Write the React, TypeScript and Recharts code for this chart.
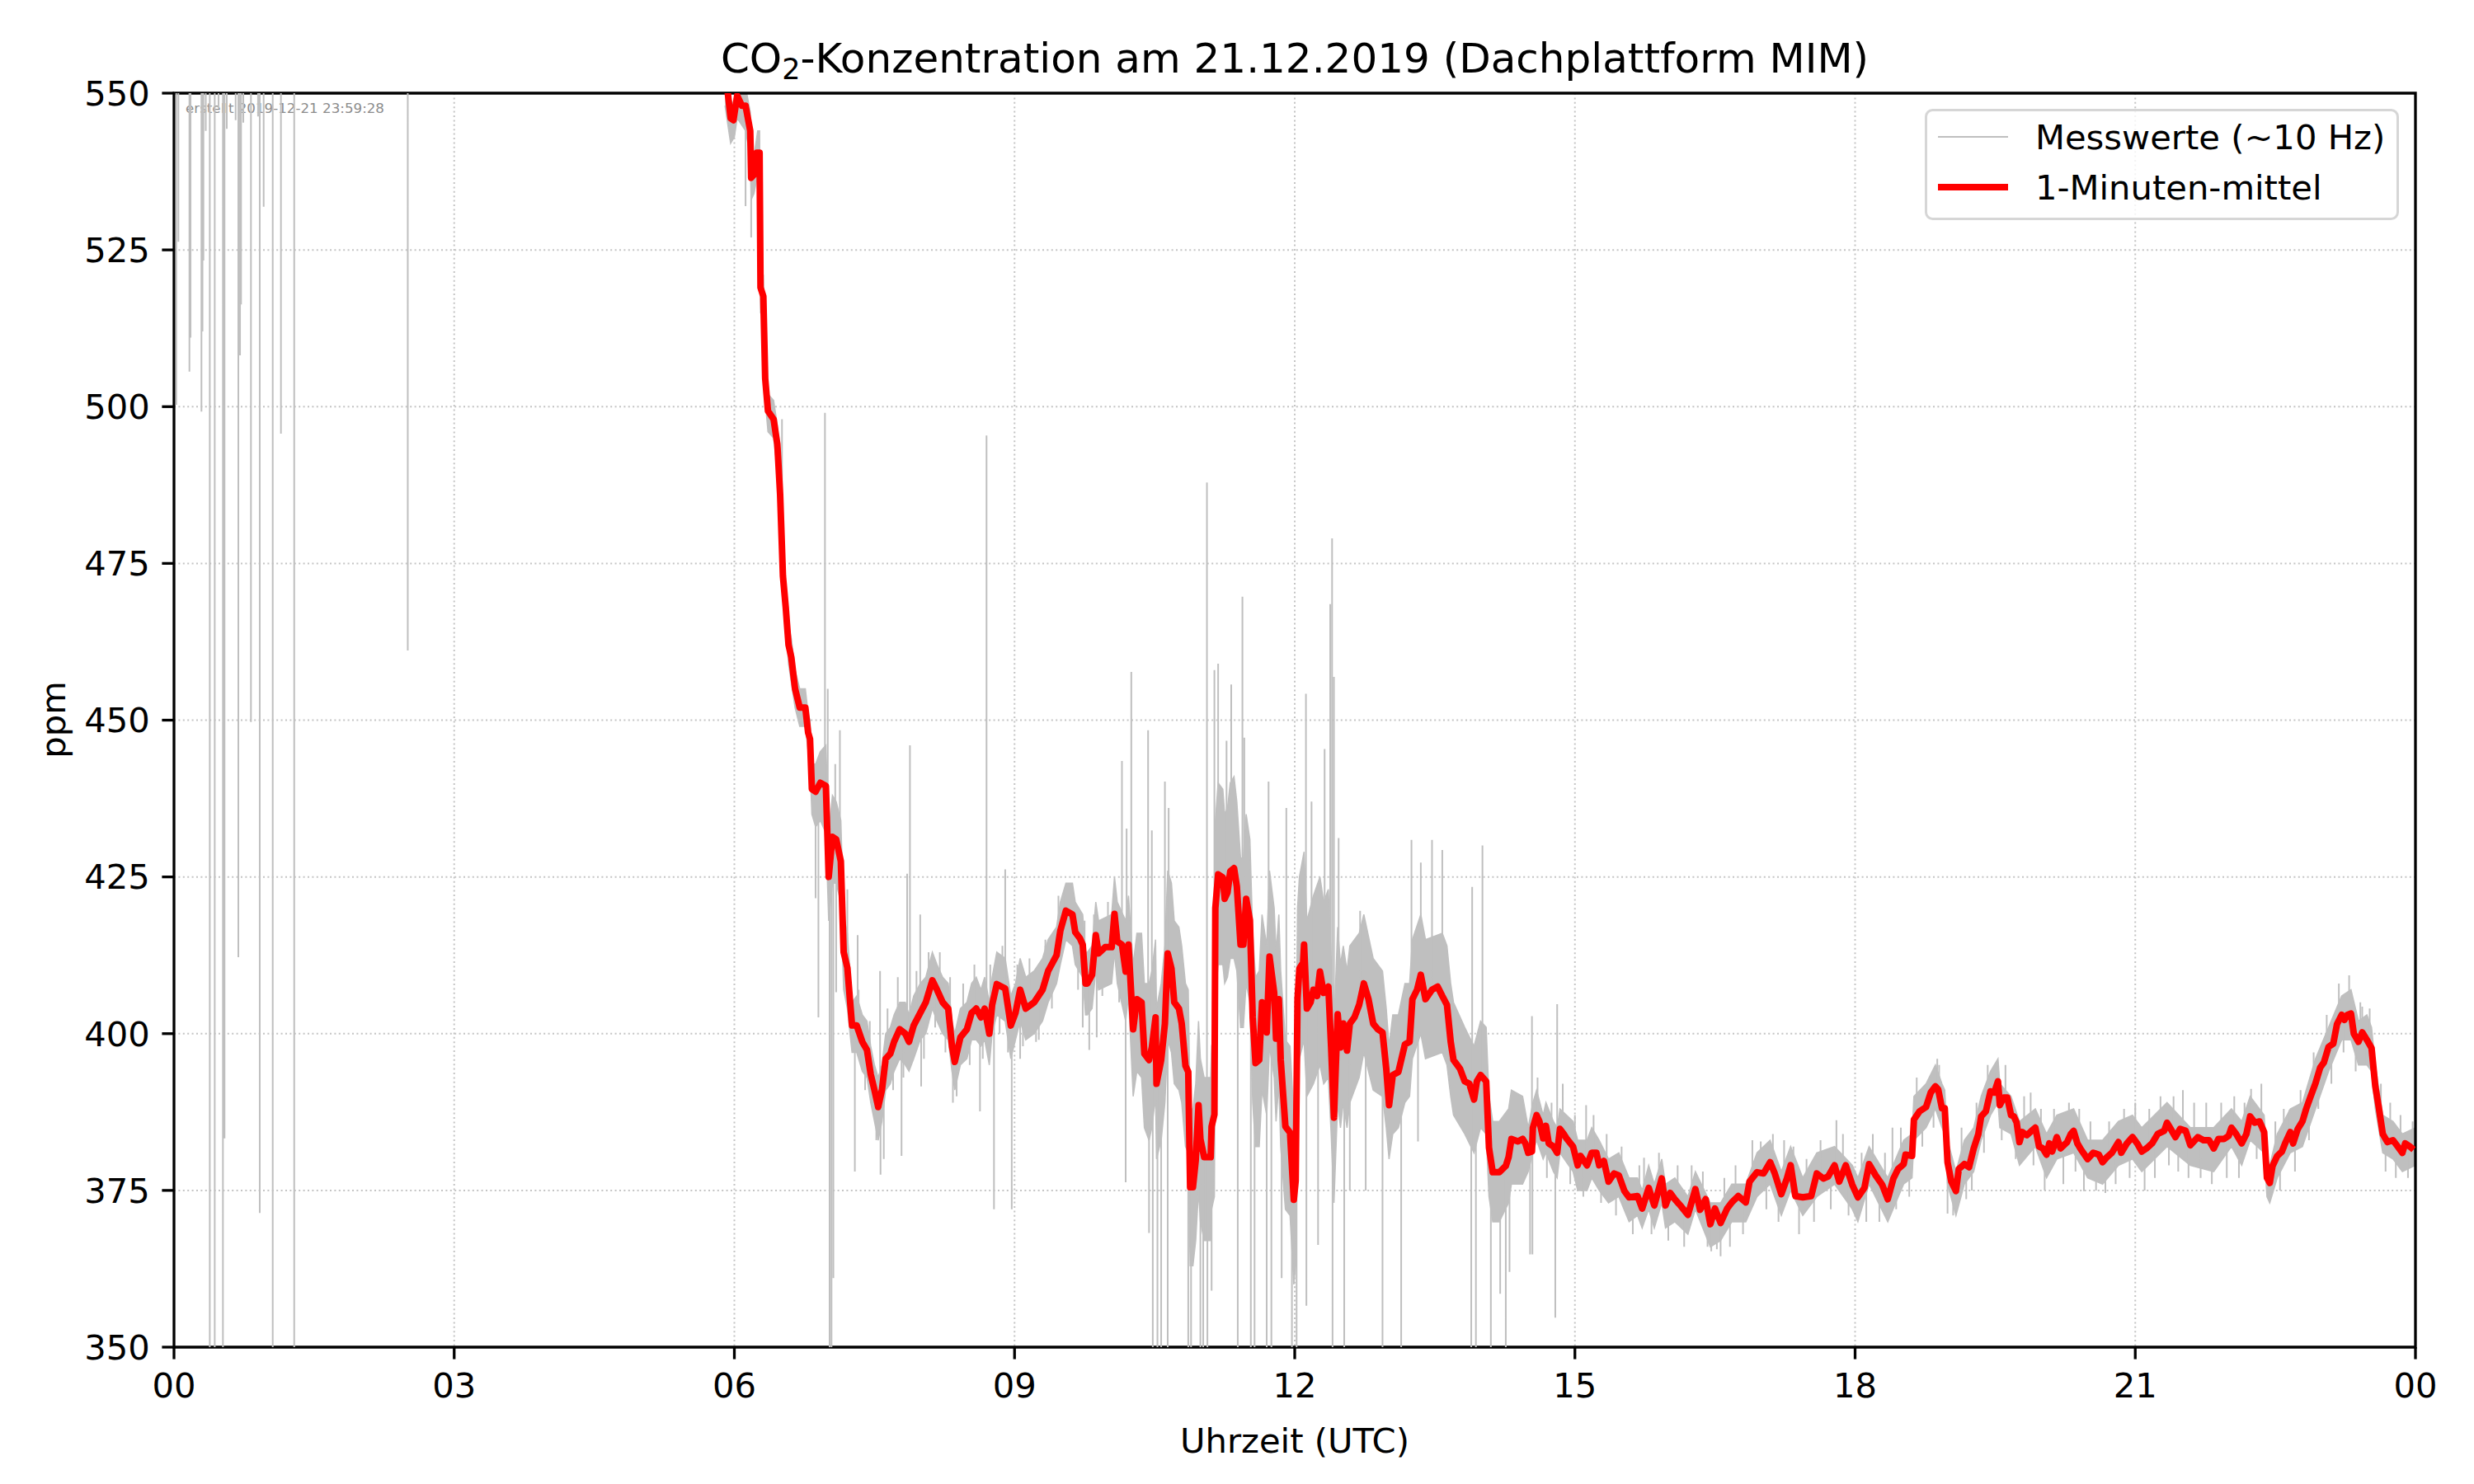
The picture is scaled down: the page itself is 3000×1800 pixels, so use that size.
import React from 'react';
import {
  ComposedChart,
  Line,
  Area,
  XAxis,
  YAxis,
  CartesianGrid,
  Legend,
  ReferenceArea,
  Customized,
} from 'recharts';

// time axis in hours (UTC), values in ppm
const xTicks = [0, 3, 6, 9, 12, 15, 18, 21, 24];
const xTickLabels = ['00', '03', '06', '09', '12', '15', '18', '21', '00'];
const yTicks = [350, 375, 400, 425, 450, 475, 500, 525, 550];
const legendLabels = ['Messwerte (~10 Hz)', '1-Minuten-mittel'];

// 1-minute mean [hour, ppm]
const meanSeries: [number, number][] = [
  [0, 600], [5.9, 556], [5.93, 550], [5.96, 546], [5.99, 545.7], [6.03, 549.6], [6.08, 548], [6.12, 548],
  [6.17, 544], [6.18, 536.5], [6.21, 537], [6.24, 540.5], [6.27, 540.5], [6.28, 519], [6.31, 517.6],
  [6.33, 504.5], [6.36, 499.3], [6.42, 498], [6.46, 494], [6.49, 486], [6.52, 473], [6.55, 468], [6.58, 462],
  [6.61, 460], [6.65, 455], [6.7, 452], [6.76, 452], [6.79, 448], [6.81, 447], [6.83, 439], [6.87, 438.6],
  [6.92, 440], [6.98, 439.5], [7.01, 425], [7.05, 431.4], [7.09, 431], [7.14, 427.5], [7.17, 413], [7.21, 410.5],
  [7.26, 401.3], [7.31, 401.3], [7.37, 398.7], [7.42, 397.4], [7.46, 393.5], [7.5, 391], [7.54, 388.3],
  [7.58, 391], [7.62, 396], [7.67, 396.8], [7.71, 398.7], [7.77, 400.7], [7.83, 400], [7.87, 398.7],
  [7.92, 401.3], [7.99, 403.3], [8.05, 405], [8.12, 408.5], [8.17, 407], [8.23, 405], [8.29, 404], [8.33, 398],
  [8.36, 395.5], [8.42, 399.4], [8.49, 400.7], [8.54, 403.3], [8.59, 404], [8.64, 402.6], [8.68, 404],
  [8.73, 400], [8.76, 404.6], [8.81, 407.9], [8.9, 407.2], [8.96, 401.3], [9.01, 403.3], [9.06, 407],
  [9.12, 404], [9.21, 405], [9.3, 407], [9.36, 410], [9.45, 412.5], [9.49, 416.4], [9.55, 419.6],
  [9.62, 419], [9.65, 416.2], [9.7, 415.2], [9.73, 414.2], [9.76, 408], [9.78, 408], [9.83, 409.4],
  [9.87, 415.7], [9.9, 412.8], [9.97, 413.8], [10.04, 413.8], [10.07, 419.1], [10.1, 414.7], [10.15, 414.2],
  [10.19, 409.9], [10.22, 414.2], [10.27, 400.7], [10.31, 405.5], [10.36, 405], [10.39, 396.8], [10.44, 395.8],
  [10.47, 397.8], [10.51, 402.6], [10.52, 392], [10.57, 395.8], [10.61, 401.6], [10.64, 412.8], [10.68, 410.4],
  [10.71, 405], [10.76, 404], [10.79, 401.6], [10.83, 394.9], [10.86, 393.9], [10.88, 375.5], [10.91, 375.5],
  [10.94, 379.8], [10.97, 388.6], [10.99, 383.2], [11.03, 380.3], [11.1, 380.3], [11.11, 385.2], [11.14, 387.1],
  [11.15, 420], [11.18, 425.4], [11.23, 424.9], [11.25, 421.5], [11.28, 422.5], [11.31, 425.9], [11.35, 426.4],
  [11.38, 423.5], [11.42, 414.2], [11.45, 414.2], [11.48, 421.5], [11.52, 418.1], [11.55, 402.6], [11.58, 395.3],
  [11.62, 395.8], [11.65, 405], [11.7, 400.2], [11.73, 412.3], [11.78, 406.5], [11.8, 399.2], [11.83, 405.5],
  [11.85, 395.8], [11.9, 385.2], [11.95, 384.2], [11.99, 373.5], [12.01, 376.5], [12.03, 405.5], [12.05, 410.4],
  [12.09, 411.3], [12.1, 414.2], [12.13, 404], [12.17, 405], [12.2, 407], [12.24, 406], [12.27, 409.9],
  [12.31, 406.5], [12.36, 407.5], [12.39, 397.8], [12.42, 386.6], [12.46, 403.1], [12.49, 397.8], [12.52, 401.6],
  [12.56, 397.3], [12.59, 401.6], [12.64, 402.6], [12.69, 404.6], [12.74, 408], [12.79, 405.5], [12.84, 401.6],
  [12.89, 400.7], [12.94, 400.2], [12.98, 394.4], [13.01, 388.6], [13.05, 393.4], [13.11, 393.9], [13.18, 398.3],
  [13.23, 398.7], [13.26, 405.5], [13.31, 407], [13.35, 409.4], [13.4, 405.5], [13.47, 407], [13.53, 407.5],
  [13.58, 406], [13.63, 404.6], [13.67, 398.7], [13.7, 395.8], [13.77, 394.4], [13.82, 392.4], [13.87, 392],
  [13.92, 389.5], [13.95, 392.4], [13.99, 393.4], [14.05, 392.4], [14.08, 381.8], [14.12, 377.9], [14.19, 377.9],
  [14.26, 378.9], [14.29, 380.3], [14.32, 383.2], [14.39, 382.8], [14.44, 383.2], [14.47, 382.5], [14.5, 381],
  [14.54, 381.2], [14.55, 385], [14.59, 387], [14.62, 386], [14.66, 383.3], [14.69, 385.3], [14.72, 382.5],
  [14.77, 382], [14.81, 381], [14.84, 384.8], [14.88, 384], [14.91, 383.3], [14.98, 382], [15.03, 379],
  [15.06, 380.5], [15.13, 379], [15.18, 381], [15.23, 381], [15.26, 379], [15.31, 379.7], [15.36, 376.4],
  [15.42, 377.7], [15.47, 377.4], [15.53, 374.9], [15.58, 373.9], [15.67, 374.1], [15.72, 372.1], [15.79, 375.4],
  [15.85, 372.6], [15.93, 376.9], [15.97, 372.6], [16.02, 374.6], [16.07, 373.6], [16.14, 372.4], [16.21, 371.1],
  [16.29, 375.2], [16.34, 371.9], [16.4, 373.6], [16.45, 369.6], [16.5, 372.1], [16.56, 369.8], [16.63, 372.1],
  [16.68, 373.1], [16.75, 374.1], [16.83, 373.1], [16.87, 376.4], [16.95, 377.9], [17.02, 377.7], [17.09, 379.5],
  [17.14, 377.7], [17.21, 374.4], [17.27, 376.9], [17.31, 379], [17.36, 374.1], [17.44, 373.9], [17.53, 374.1],
  [17.59, 377.7], [17.66, 376.9], [17.71, 377.2], [17.78, 379], [17.83, 376.4], [17.9, 379], [17.97, 375.9],
  [18.03, 373.9], [18.1, 375.4], [18.15, 379.2], [18.22, 377.4], [18.29, 375.9], [18.35, 373.6], [18.41, 376.9],
  [18.46, 378.4], [18.52, 379.2], [18.54, 380.7], [18.61, 380.5], [18.63, 386.3], [18.69, 387.6], [18.76, 388.3],
  [18.81, 390.6], [18.86, 391.6], [18.89, 391.1], [18.93, 388.1], [18.96, 388.1], [18.99, 379.5], [19.03, 376.4],
  [19.08, 374.9], [19.11, 378.4], [19.17, 379.2], [19.22, 378.7], [19.27, 381.7], [19.32, 384], [19.35, 386.8],
  [19.4, 387.6], [19.45, 390.8], [19.49, 390.6], [19.53, 392.4], [19.55, 388.6], [19.59, 389.8], [19.63, 389.8],
  [19.67, 387], [19.7, 386.8], [19.73, 385.8], [19.76, 382.7], [19.79, 384.3], [19.84, 383.8], [19.89, 384.5],
  [19.93, 385], [19.97, 382], [20.01, 381.7], [20.05, 380.7], [20.08, 382.5], [20.11, 381.2], [20.16, 383.5],
  [20.2, 381.7], [20.27, 382.7], [20.31, 384], [20.34, 384.5], [20.38, 382.5], [20.42, 381.5], [20.49, 380],
  [20.55, 381], [20.61, 380.7], [20.65, 379.5], [20.69, 380.2], [20.75, 381], [20.82, 382.7], [20.85, 381],
  [20.91, 382.5], [20.97, 383.5], [21.02, 382.5], [21.07, 381.2], [21.12, 381.7], [21.18, 382.5], [21.24, 384],
  [21.31, 384.5], [21.34, 385.8], [21.38, 384.8], [21.43, 383.5], [21.48, 384.8], [21.54, 384.5], [21.59, 382.2],
  [21.67, 383.5], [21.73, 383], [21.79, 383], [21.84, 381.7], [21.89, 383.2], [21.95, 383.2], [22.0, 383.7],
  [22.03, 385], [22.08, 384], [22.14, 382.5], [22.19, 384], [22.23, 386.8], [22.28, 385.8], [22.33, 386],
  [22.38, 384.3], [22.41, 377], [22.44, 376.2], [22.47, 378.9], [22.52, 380.5], [22.57, 381.2], [22.61, 382.7],
  [22.66, 384.3], [22.69, 382.5], [22.74, 384.8], [22.79, 386], [22.83, 388], [22.88, 390.1], [22.93, 392.1],
  [22.98, 394.6], [23.02, 395.4], [23.07, 397.9], [23.12, 398.4], [23.16, 401.5], [23.21, 403], [23.24, 402.2],
  [23.27, 403], [23.31, 403.2], [23.34, 400], [23.39, 398.7], [23.43, 400.2], [23.48, 399], [23.53, 397.7],
  [23.57, 391.6], [23.61, 388], [23.65, 384], [23.7, 382.7], [23.76, 383], [23.81, 382], [23.86, 381],
  [23.89, 382.5], [23.94, 382], [23.98, 381.5],
];

// dense core of the raw 10 Hz values [hour, low, high]
const rawBand: [number, number, number][] = [
  [5.9, 548, 560], [5.96, 542, 549], [6.0, 543, 548], [6.03, 546, 552], [6.12, 544, 551], [6.17, 540, 547],
  [6.18, 533, 540], [6.21, 534, 540], [6.25, 537, 544], [6.27, 536, 544], [6.28, 515, 522], [6.31, 514, 521],
  [6.33, 501, 508], [6.36, 496, 502], [6.42, 495, 501], [6.46, 490, 497], [6.49, 482, 489], [6.52, 469, 476],
  [6.55, 465, 471], [6.58, 459, 465], [6.61, 456, 463], [6.65, 452, 458], [6.7, 449, 455], [6.76, 449, 455],
  [6.79, 445, 451], [6.81, 443, 450], [6.83, 435, 443], [6.87, 433, 443], [6.92, 434, 445], [6.98, 432, 446],
  [7.01, 418, 432], [7.05, 424, 438], [7.09, 424, 437], [7.14, 421, 434], [7.17, 407, 419], [7.21, 404, 416],
  [7.26, 397, 405], [7.31, 397, 406], [7.37, 394, 403], [7.42, 393, 402], [7.46, 389, 398], [7.5, 386, 395],
  [7.54, 383, 393], [7.58, 386, 395], [7.62, 391, 400], [7.67, 392, 401], [7.71, 394, 403], [7.77, 396, 405],
  [7.83, 395, 405], [7.87, 394, 403], [7.92, 396, 406], [7.99, 399, 408], [8.05, 400, 409], [8.12, 404, 413],
  [8.17, 402, 411], [8.23, 400, 409], [8.29, 399, 408], [8.33, 394, 402], [8.36, 391, 400], [8.42, 395, 404],
  [8.49, 396, 405], [8.54, 399, 408], [8.59, 399, 409], [8.64, 398, 407], [8.68, 399, 409], [8.73, 395, 405],
  [8.76, 400, 409], [8.81, 403, 413], [8.9, 402, 412], [8.96, 396, 406], [9.01, 399, 408], [9.06, 402, 412],
  [9.12, 399, 409], [9.21, 400, 410], [9.3, 402, 412], [9.36, 405, 415], [9.45, 408, 417], [9.49, 411, 421],
  [9.55, 415, 424], [9.62, 414, 424], [9.65, 411, 421], [9.73, 409, 419], [9.76, 403, 413], [9.78, 403, 413],
  [9.83, 404, 414], [9.87, 410, 421], [9.9, 407, 418], [10.04, 408, 419], [10.07, 413, 425], [10.1, 408, 421],
  [10.19, 402, 418], [10.22, 406, 422], [10.27, 390, 411], [10.31, 394, 416], [10.36, 393, 416], [10.39, 385, 408],
  [10.44, 383, 408], [10.47, 385, 410], [10.51, 390, 415], [10.52, 380, 404], [10.57, 383, 408], [10.61, 389, 414],
  [10.64, 399, 426], [10.68, 397, 424], [10.71, 392, 418], [10.76, 391, 417], [10.79, 389, 414], [10.83, 382, 408],
  [10.86, 381, 407], [10.88, 363, 388], [10.91, 363, 388], [10.94, 367, 392], [10.97, 375, 402], [10.99, 370, 396],
  [11.03, 367, 393], [11.1, 367, 393], [11.11, 372, 398], [11.14, 374, 400], [11.15, 406, 434], [11.18, 411, 440],
  [11.23, 411, 439], [11.25, 408, 435], [11.28, 409, 436], [11.31, 412, 440], [11.35, 412, 441], [11.38, 410, 437],
  [11.42, 401, 428], [11.45, 401, 428], [11.48, 408, 435], [11.52, 405, 431], [11.55, 389, 416], [11.58, 382, 409],
  [11.62, 382, 410], [11.65, 391, 419], [11.7, 387, 414], [11.73, 398, 426], [11.78, 393, 420], [11.8, 386, 413],
  [11.83, 392, 419], [11.85, 382, 410], [11.9, 372, 399], [11.95, 371, 398], [11.99, 360, 387], [12.01, 363, 390],
  [12.03, 391, 420], [12.05, 396, 425], [12.1, 399, 429], [12.13, 390, 418], [12.2, 392, 422], [12.27, 395, 425],
  [12.31, 392, 421], [12.36, 393, 423], [12.39, 384, 412], [12.42, 373, 401], [12.46, 389, 417], [12.49, 385, 411],
  [12.52, 389, 414], [12.56, 385, 410], [12.59, 389, 414], [12.69, 393, 416], [12.74, 397, 419], [12.84, 391, 412],
  [12.94, 390, 410], [12.98, 385, 404], [13.01, 380, 398], [13.05, 384, 403], [13.11, 385, 403], [13.18, 389, 408],
  [13.23, 390, 408], [13.26, 396, 415], [13.35, 400, 419], [13.4, 396, 415], [13.58, 397, 416], [13.63, 395, 414],
  [13.67, 390, 408], [13.7, 387, 405], [13.82, 384, 401], [13.92, 381, 398], [13.99, 385, 402], [14.05, 384, 401],
  [14.08, 374, 390], [14.12, 370, 386], [14.19, 370, 386], [14.29, 373, 388], [14.32, 376, 391], [14.44, 376, 390],
  [14.5, 378, 385], [14.55, 381, 389], [14.59, 383, 391], [14.66, 380, 387], [14.69, 381, 389], [14.77, 378, 386],
  [14.81, 377, 385], [14.84, 381, 388], [14.98, 378, 386], [15.03, 375, 383], [15.13, 375, 383], [15.18, 377, 385],
  [15.26, 375, 383], [15.36, 373, 380], [15.47, 374, 381], [15.58, 370, 377], [15.67, 371, 377], [15.72, 369, 375],
  [15.79, 372, 379], [15.85, 369, 376], [15.93, 373, 380], [15.97, 369, 376], [16.07, 370, 377], [16.21, 368, 374],
  [16.29, 372, 378], [16.45, 366, 373], [16.56, 367, 373], [16.68, 370, 376], [16.83, 370, 376], [16.95, 374, 381],
  [17.09, 376, 383], [17.21, 371, 378], [17.31, 375, 382], [17.44, 371, 377], [17.59, 374, 381], [17.78, 376, 382],
  [17.97, 372, 379], [18.03, 370, 377], [18.15, 376, 382], [18.35, 370, 377], [18.52, 376, 383], [18.61, 377, 384],
  [18.63, 383, 390], [18.76, 385, 392], [18.86, 388, 395], [18.93, 385, 392], [18.96, 384, 391], [18.99, 376, 383],
  [19.08, 371, 378], [19.17, 376, 383], [19.27, 378, 385], [19.35, 383, 390], [19.45, 387, 394], [19.53, 389, 396],
  [19.55, 385, 392], [19.67, 384, 390], [19.76, 379, 386], [19.93, 382, 388], [20.05, 377, 384], [20.16, 380, 387],
  [20.34, 381, 388], [20.49, 377, 383], [20.65, 376, 383], [20.82, 379, 386], [20.97, 380, 387], [21.07, 378, 385],
  [21.34, 382, 389], [21.59, 379, 385], [21.84, 378, 385], [22.03, 382, 388], [22.14, 379, 386], [22.23, 383, 390],
  [22.38, 381, 387], [22.41, 374, 380], [22.44, 373, 379], [22.52, 377, 384], [22.66, 381, 388], [22.79, 382, 389],
  [22.93, 388, 396], [23.07, 394, 401], [23.21, 399, 406], [23.31, 399, 407], [23.39, 395, 402], [23.48, 395, 403],
  [23.53, 394, 401], [23.57, 388, 395], [23.65, 381, 387], [23.76, 380, 386], [23.86, 378, 384], [24.0, 379, 385],
];

// single raw outliers [hour, from, to]
const rawSpikes: [number, number, number][] = [
  [0.024, 600, 500.3], [0.047, 600, 526.3], [0.165, 600, 505.6], [0.177, 600, 511], [0.294, 600, 499.2],
  [0.305, 600, 512], [0.315, 600, 523.3], [0.34, 600, 544], [0.383, 600, 345], [0.436, 600, 345],
  [0.477, 600, 547.6], [0.524, 600, 345], [0.541, 600, 383.3], [0.565, 600, 544.3], [0.66, 600, 545.7],
  [0.689, 600, 412.2], [0.707, 600, 508.2], [0.718, 600, 516.3], [0.742, 600, 545.3], [0.824, 600, 449.7],
  [0.9, 600, 546.3], [0.918, 600, 371.4], [0.96, 600, 531.9], [1.057, 600, 345], [1.145, 600, 495.7],
  [1.287, 600, 345], [2.503, 600, 461.1],
  [6.12, 545, 532], [6.18, 538, 527], [6.51, 478, 498], [6.87, 436, 421.6], [6.9, 436, 402.6], [6.97, 440, 499],
  [7.0, 430, 455], [7.02, 430, 345], [7.04, 430, 345], [7.06, 430, 361], [7.08, 431, 443], [7.09, 425, 406.6],
  [7.13, 428, 448.4], [7.21, 410, 423], [7.29, 400, 378], [7.32, 401, 415.7], [7.56, 392, 410], [7.565, 388, 377.5],
  [7.6, 390, 380], [7.79, 398, 380.5], [7.85, 400, 425.5], [7.88, 400, 446], [7.99, 404, 419], [8.0, 402, 391.6],
  [8.34, 397, 389], [8.63, 402, 387.6], [8.7, 404, 495.4], [8.78, 405, 372], [8.9, 407, 426.2], [8.97, 402, 372],
  [9.06, 405, 396], [9.23, 405, 398.7], [9.33, 408, 414], [9.54, 418, 423], [9.73, 413, 401], [9.8, 410, 397.4],
  [9.88, 413, 399.4],
  [10.15, 414, 443.5], [10.19, 410, 376.3], [10.2, 410, 432.7], [10.25, 412, 457.7], [10.43, 396, 448.4],
  [10.44, 396, 368.2], [10.47, 398, 432.4], [10.48, 397, 345], [10.53, 395, 345], [10.57, 396, 345],
  [10.61, 402, 440.2], [10.64, 410, 345], [10.65, 412, 436], [10.86, 394, 345], [10.89, 376, 345],
  [10.99, 383, 345], [11.02, 381, 345], [11.06, 380, 487.9], [11.065, 380, 345], [11.11, 385, 359],
  [11.14, 387, 458], [11.18, 425, 459], [11.27, 422, 446.7], [11.32, 426, 455.7], [11.39, 423, 345],
  [11.44, 414, 469.7], [11.46, 414, 447.2], [11.53, 418, 345], [11.57, 398, 345], [11.7, 400, 345],
  [11.72, 410, 440.2], [11.75, 410, 345], [11.86, 395, 361], [11.91, 385, 436], [11.97, 380, 345],
  [12.02, 376, 345], [12.12, 410, 454.2], [12.125, 406, 356.6], [12.18, 405, 437], [12.25, 406, 366.3],
  [12.32, 406, 445.4], [12.38, 400, 468.5], [12.4, 395, 479], [12.405, 395, 345], [12.42, 390, 456.9],
  [12.47, 403, 431.2], [12.53, 401, 345], [12.59, 401, 375], [12.7, 404, 419.6], [12.76, 407, 375],
  [12.94, 400, 345], [13.14, 395, 345], [13.25, 400, 430.9], [13.32, 407, 382.8], [13.35, 409, 427.3],
  [13.47, 407, 430.9], [13.58, 406, 429.3], [13.89, 392, 345], [13.9, 390, 423.4], [13.94, 390, 345],
  [14.01, 393, 430], [14.1, 380, 345], [14.2, 378, 358.5], [14.26, 379, 345], [14.3, 380, 362],
  [14.52, 382, 364.8], [14.54, 383, 402.8], [14.545, 383, 364.8], [14.79, 382, 354.7], [14.81, 382, 404.7],
  [14.87, 384, 392], [15.12, 380, 388.6], [15.74, 373, 380.2], [16.46, 370, 365.3], [16.52, 370, 365.6],
  [16.56, 370, 364.5], [16.99, 378, 382.8], [17.24, 376, 383], [17.8, 378, 386.2], [18.4, 376, 385],
  [18.9, 390, 395], [18.99, 380, 371.3], [19.19, 379, 373.6], [19.51, 391, 393.7], [19.88, 384, 390.6],
  [20.45, 381, 374.9], [20.68, 380, 374.6], [22.24, 386, 391.2], [22.44, 376, 373.4], [22.65, 384, 387.8],
  [23.29, 403, 409.3], [23.43, 400, 404.3],
];

// short raw excursions just outside the dense core [hour, from, to]
const rawWhiskers: [number, number, number][] = [
  [7.33, 400, 407], [7.4, 398, 391], [7.45, 394, 402], [7.52, 390, 383], [7.64, 396, 404], [7.7, 398, 391],
  [7.75, 400, 409], [7.81, 400, 393], [7.95, 402, 410], [8.03, 404, 396], [8.08, 406, 413], [8.15, 408, 401],
  [8.2, 406, 413], [8.26, 404, 397], [8.31, 401, 409], [8.38, 396, 390], [8.45, 400, 408], [8.52, 402, 395],
  [8.57, 404, 411], [8.66, 403, 396], [8.74, 402, 411], [8.84, 407, 400], [8.87, 407, 414], [8.93, 404, 397],
  [9.03, 404, 411], [9.09, 405, 398], [9.16, 404, 412], [9.26, 406, 399], [9.33, 408, 415], [9.4, 411, 404],
  [9.47, 414, 422], [9.58, 419, 424], [9.68, 415, 407], [9.75, 410, 418], [9.85, 412, 419], [9.94, 413, 406],
  [10.0, 414, 421], [10.12, 414, 405],
  [14.6, 386, 393], [14.7, 384, 377], [14.75, 382, 389], [14.95, 382, 376], [15.0, 380, 387], [15.09, 380, 374],
  [15.2, 381, 387], [15.28, 379, 373], [15.34, 378, 384], [15.44, 377, 371], [15.5, 376, 382], [15.62, 374, 368],
  [15.69, 373, 379], [15.82, 374, 368], [15.9, 375, 381], [16.0, 373, 367], [16.1, 373, 379], [16.17, 372, 366],
  [16.25, 373, 379], [16.37, 373, 378], [16.42, 372, 366], [16.6, 371, 377], [16.66, 372, 366], [16.72, 373, 379],
  [16.8, 374, 368], [16.9, 377, 383], [17.05, 378, 372], [17.12, 378, 384], [17.18, 376, 370], [17.34, 376, 382],
  [17.4, 374, 368], [17.48, 374, 380], [17.56, 376, 370], [17.63, 377, 383], [17.74, 378, 372], [17.87, 378, 384],
  [17.93, 377, 371], [18.07, 375, 381], [18.12, 377, 370], [18.19, 378, 384], [18.26, 376, 370], [18.32, 375, 381],
  [18.44, 378, 372], [18.49, 379, 385], [18.58, 380, 374], [18.66, 387, 393], [18.72, 388, 382], [18.84, 391, 385],
  [18.88, 391, 396], [19.05, 376, 371], [19.14, 379, 385], [19.25, 380, 375], [19.3, 383, 389], [19.38, 387, 381],
  [19.42, 389, 395], [19.57, 389, 383], [19.61, 390, 395], [19.72, 386, 380], [19.81, 384, 390], [19.91, 385, 379],
  [19.99, 382, 388], [20.03, 381, 375], [20.13, 382, 388], [20.23, 382, 376], [20.29, 383, 389], [20.36, 384, 378],
  [20.4, 382, 388], [20.52, 380, 386], [20.58, 381, 375], [20.72, 380, 386], [20.79, 382, 376], [20.88, 382, 388],
  [20.94, 383, 377], [21.0, 383, 389], [21.1, 381, 375], [21.15, 382, 388], [21.21, 383, 377], [21.27, 384, 390],
  [21.36, 385, 379], [21.41, 384, 390], [21.46, 384, 378], [21.51, 385, 391], [21.57, 383, 377], [21.63, 383, 389],
  [21.7, 383, 377], [21.76, 383, 389], [21.82, 382, 376], [21.92, 383, 389], [21.98, 383, 377], [22.06, 384, 390],
  [22.11, 383, 377], [22.17, 383, 389], [22.3, 386, 380], [22.35, 385, 392], [22.5, 380, 386], [22.55, 381, 375],
  [22.59, 382, 388], [22.71, 384, 378], [22.77, 385, 391], [22.86, 389, 383], [22.91, 391, 397], [22.96, 394, 388],
  [23.05, 397, 403], [23.1, 398, 392], [23.18, 402, 408], [23.23, 403, 397], [23.36, 399, 394], [23.41, 399, 405],
  [23.46, 400, 395], [23.51, 398, 404], [23.63, 386, 392], [23.68, 383, 378], [23.73, 383, 389], [23.79, 382, 377],
  [23.84, 381, 387], [23.92, 382, 377], [23.97, 381, 386],
];

const FONT = 'DejaVu Sans';
const GRAY = '#bfbfbf';

const meanData = meanSeries.map(([t, v]) => ({ t, v }));
const bandData = rawBand.map(([t, lo, hi]) => ({ t, range: [lo, hi] }));
const toSegments = (list: [number, number, number][]) =>
  list.flatMap(([t, from, to]) => [
    { t, v: from },
    { t, v: to },
    { t, v: from },
    { t, v: null },
  ]);
const spikeData = toSegments(rawSpikes);
const whiskerData = toSegments(rawWhiskers);

const ChartTexts = () => (
  <g fontFamily={FONT}>
    <text x={1570} y={88} textAnchor='middle' fontSize={50} fill='#000'>
      CO
      <tspan fontSize={35} dy={8}>
        2
      </tspan>
      <tspan dy={-8}>-Konzentration am 21.12.2019 (Dachplattform MIM)</tspan>
    </text>
    <text x={225} y={137} fontSize={16.7} fill='#8c8c8c'>
      erstellt 2019-12-21 23:59:28
    </text>
    <text x={1570} y={1762} textAnchor='middle' fontSize={41.7} fill='#000'>
      Uhrzeit (UTC)
    </text>
    <text x={79} y={873} textAnchor='middle' fontSize={41.7} fill='#000' transform='rotate(-90 79 873)'>
      ppm
    </text>
  </g>
);

const LegendBox = () => (
  <svg width={575} height={135} style={{ display: 'block' }}>
    <rect x={1.5} y={1.5} width={572} height={132} rx={8} ry={8} fill='#fff' fillOpacity={0.8} stroke='#d6d6d6' strokeWidth={3} />
    <line x1={16} x2={101} y1={34} y2={34} stroke={GRAY} strokeWidth={2} />
    <text x={134} y={49} fontFamily={FONT} fontSize={41.7} fill='#000'>
      {legendLabels[0]}
    </text>
    <line x1={16} x2={101} y1={95} y2={95} stroke='#ff0000' strokeWidth={8} />
    <text x={134} y={110} fontFamily={FONT} fontSize={41.7} fill='#000'>
      {legendLabels[1]}
    </text>
  </svg>
);

const App = () => {
  const tickStyle = { fontFamily: FONT, fontSize: 41.7, fill: '#000' };

  return (
    <div style={{ position: 'absolute', left: 0, top: 0, width: 3000, height: 1800, background: '#fff' }}>
      <ComposedChart width={3000} height={1800} margin={{ top: 113, right: 71, bottom: 116, left: 111 }}>
        <CartesianGrid stroke='#c4c4c4' strokeWidth={2} strokeDasharray='2 3.4' />
        <XAxis
          dataKey='t'
          type='number'
          domain={[0, 24]}
          ticks={xTicks}
          interval={0}
          allowDataOverflow
          height={50}
          axisLine={false}
          tickLine={{ stroke: '#000', strokeWidth: 3.3 }}
          tickSize={14.6}
          tickMargin={17}
          tick={tickStyle}
          tickFormatter={(_v: number, i: number) => xTickLabels[i]}
        />
        <YAxis
          type='number'
          domain={[350, 550]}
          ticks={yTicks}
          interval={0}
          allowDataOverflow
          width={100}
          axisLine={false}
          tickLine={{ stroke: '#000', strokeWidth: 3.3 }}
          tickSize={14.6}
          tickMargin={14.6}
          tick={tickStyle}
        />
        <Area
          data={bandData}
          dataKey='range'
          type='linear'
          stroke={GRAY}
          strokeWidth={1.5}
          fill={GRAY}
          fillOpacity={1}
          isAnimationActive={false}
          legendType='none'
        />
        <Line
          data={whiskerData}
          dataKey='v'
          type='linear'
          stroke={GRAY}
          strokeWidth={2}
          dot={false}
          activeDot={false}
          connectNulls={false}
          isAnimationActive={false}
          legendType='none'
        />
        <Line
          data={spikeData}
          dataKey='v'
          type='linear'
          stroke={GRAY}
          strokeWidth={2}
          dot={false}
          activeDot={false}
          connectNulls={false}
          isAnimationActive={false}
          legendType='none'
        />
        <Line
          data={meanData}
          dataKey='v'
          type='linear'
          stroke='#ff0000'
          strokeWidth={8}
          strokeLinejoin='round'
          dot={false}
          activeDot={false}
          isAnimationActive={false}
          legendType='none'
        />
        <ReferenceArea x1={0} x2={24} y1={350} y2={550} fill='none' stroke='#000' strokeWidth={3.3} ifOverflow='visible' />
        <Legend
          layout='horizontal'
          verticalAlign='middle'
          align='center'
          content={() => <LegendBox />}
          wrapperStyle={{ left: 2334, top: 132, width: 575, height: 135 }}
        />
        <Customized component={<ChartTexts />} />
      </ComposedChart>
    </div>
  );
};

export default App;
